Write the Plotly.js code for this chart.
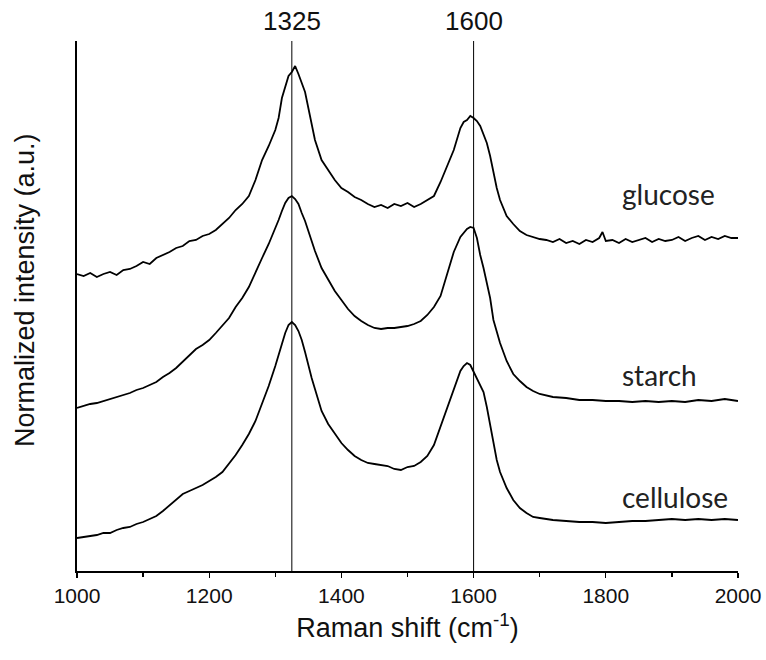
<!DOCTYPE html>
<html>
<head>
<meta charset="utf-8">
<script src="https://cdn.plot.ly/plotly-3.0.1.min.js"></script>
<style>html,body{margin:0;padding:0;background:#fff;}#chart{width:766px;height:660px;}</style>
</head>
<body>
<div id="chart"></div>
<script>
// Raman shift (cm^-1) and normalized, vertically offset intensities (a.u.)
const glucoseShift = [1000,1010,1020,1030,1040,1050,1060,1070,1080,1090,1100,1110,1120,1130,1140,1150,1160,1170,1180,1190,1200,1210,1220,1230,1240,1250,1260,1270,1280,1290,1300,1305,1310,1315,1320,1325,1330,1335,1340,1345,1350,1355,1360,1370,1380,1390,1400,1410,1420,1430,1440,1450,1460,1470,1480,1490,1500,1510,1520,1530,1540,1550,1560,1570,1580,1585,1590,1595,1600,1605,1610,1615,1620,1625,1630,1635,1640,1645,1650,1660,1670,1680,1690,1700,1710,1720,1730,1740,1750,1760,1770,1780,1790,1795,1800,1810,1820,1830,1840,1850,1860,1870,1880,1890,1900,1910,1920,1930,1940,1950,1960,1970,1980,1990,2000];
const glucoseIntensity = [297,295,298,294,297,299,296,301,302,305,309,307,313,316,319,323,325,330,331,335,337,341,347,353,361,367,375,391,411,425,441,453,473,483,495,499,505,497,487,479,463,445,431,411,401,391,383,379,374,371,367,364,366,363,367,365,368,364,367,371,375,389,405,421,443,449,451,455,453,450,445,437,428,415,399,383,371,362,355,347,340,336,334,332,331,329,332,328,330,327,331,329,333,339,330,331,328,332,329,331,333,329,332,330,331,334,330,333,335,331,334,332,335,333,333];

const starchShift = [1000,1010,1020,1030,1040,1050,1060,1070,1080,1090,1100,1110,1120,1130,1140,1150,1160,1170,1180,1190,1200,1210,1220,1230,1240,1250,1260,1270,1280,1290,1300,1305,1310,1315,1320,1325,1330,1335,1340,1345,1350,1360,1370,1380,1390,1400,1410,1420,1430,1440,1450,1460,1470,1480,1490,1500,1510,1520,1530,1540,1550,1560,1570,1580,1590,1595,1600,1605,1610,1615,1620,1625,1630,1640,1650,1660,1670,1680,1690,1700,1720,1740,1760,1780,1800,1820,1840,1860,1880,1900,1920,1940,1960,1980,2000];
const starchIntensity = [163,165,167,168,170,172,174,176,178,181,183,186,189,194,198,203,209,215,222,226,231,238,245,253,264,273,284,299,313,327,342,351,360,368,373,375,372,367,358,350,340,320,303,291,280,271,262,255,250,246,243,242,243,243,244,245,247,250,256,264,275,296,319,334,342,344,343,333,316,303,288,273,251,228,210,197,190,184,180,177,174,173,171,171,170,170,169,170,169,170,169,171,170,172,170];

const celluloseShift = [1000,1010,1020,1030,1040,1050,1060,1070,1080,1090,1100,1110,1120,1130,1140,1150,1160,1170,1180,1190,1200,1210,1220,1230,1240,1250,1260,1270,1280,1290,1300,1305,1310,1315,1320,1325,1330,1335,1340,1345,1350,1355,1360,1370,1380,1390,1400,1410,1420,1430,1440,1450,1460,1470,1480,1490,1500,1510,1520,1530,1540,1550,1560,1570,1580,1585,1590,1595,1600,1605,1610,1615,1620,1625,1630,1635,1640,1650,1660,1670,1680,1690,1700,1720,1740,1760,1780,1800,1820,1840,1860,1880,1900,1920,1940,1960,1980,2000];
const celluloseIntensity = [33,34,35,36,38,38,41,43,44,47,49,52,55,60,66,71,77,80,83,86,90,94,99,107,116,126,137,150,167,185,205,215,227,238,246,249,246,240,231,219,205,193,182,160,147,137,128,121,115,111,108,107,106,105,102,101,104,105,109,115,126,144,163,182,200,205,208,206,199,193,186,179,164,146,128,111,99,83,71,63,58,54,53,51,50,49,49,48,49,50,50,51,52,51,52,51,52,51];

const seriesNames = ["glucose","starch","cellulose"];
const peakMarkers = [1325, 1600];
const xTickVals = [1000,1200,1400,1600,1800,2000];

const lineStyle = {color:"#000", width:1.8};
const traces = [
  {x: glucoseShift, y: glucoseIntensity, name: seriesNames[0]},
  {x: starchShift, y: starchIntensity, name: seriesNames[1]},
  {x: celluloseShift, y: celluloseIntensity, name: seriesNames[2]}
].map(t => Object.assign(t, {type:"scatter", mode:"lines", line:lineStyle, hoverinfo:"x+y"}));

const labelPos = [
  {x:1821, y:377},
  {x:1821, y:196},
  {x:1821, y:74}
];
const annotations = seriesNames.map((n,i) => ({
  x: labelPos[i].x, y: labelPos[i].y, xref:"x", yref:"y", xanchor:"left", text:n, showarrow:false,
  font:{family:"Lato", size:28, color:"#222"}
}));
peakMarkers.forEach(p => annotations.push({
  x:p, y:1, xref:"x", yref:"paper", yanchor:"bottom", yshift:3, text:String(p), showarrow:false,
  font:{family:"Arial", size:26, color:"#111"}
}));
annotations.push({
  x:0, y:0.53, xref:"paper", yref:"paper", xanchor:"center", yanchor:"middle", xshift:-52,
  textangle:-90, text:"Normalized intensity (a.u.)", showarrow:false,
  font:{family:"Arial", size:27, color:"#111"}
});

const shapes = peakMarkers.map(p => ({
  type:"line", xref:"x", yref:"paper", x0:p, x1:p, y0:0, y1:1,
  line:{color:"#000", width:1}
}));

const layout = {
  width:766, height:660,
  margin:{l:77, r:28, t:41, b:89},
  paper_bgcolor:"#fff", plot_bgcolor:"#fff",
  showlegend:false,
  font:{family:"Arial", color:"#111"},
  xaxis:{
    range:[1000,2000], showgrid:false, zeroline:false,
    showline:true, linecolor:"#000", linewidth:1.6,
    ticks:"outside", ticklen:5, tickwidth:1.3, tickcolor:"#000",
    tickvals:xTickVals,
    minor:{dtick:100, tick0:1000, ticks:"outside", ticklen:4, tickwidth:1.3, tickcolor:"#000", showgrid:false},
    tickfont:{family:"Arial", size:21, color:"#111"},
    title:{text:"Raman shift (cm<sup>-1</sup>)", font:{family:"Arial", size:27, color:"#111"}, standoff:12}
  },
  yaxis:{
    range:[0,530], showgrid:false, zeroline:false,
    showline:true, linecolor:"#000", linewidth:1.6,
    ticks:"", showticklabels:false
  },
  shapes: shapes,
  annotations: annotations
};

Plotly.newPlot("chart", traces, layout, {displayModeBar:false, staticPlot:true});
</script>
</body>
</html>
